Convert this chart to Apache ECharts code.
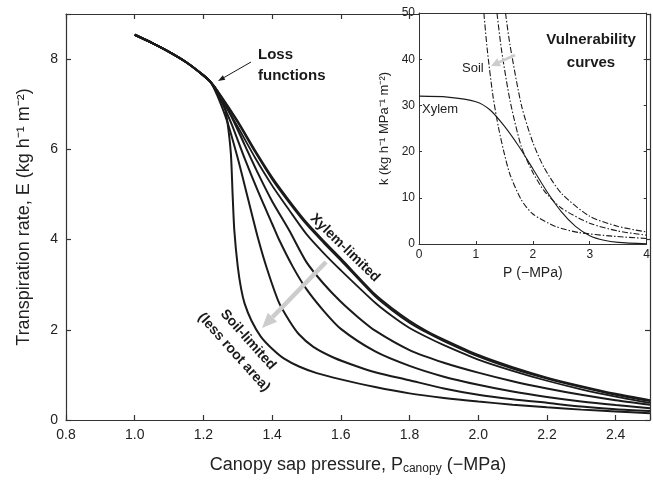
<!DOCTYPE html>
<html>
<head>
<meta charset="utf-8">
<script src="https://cdn.jsdelivr.net/npm/echarts@6/dist/echarts.min.js"></script>
<style>
  html, body { margin: 0; padding: 0; background: #fff; }
  #chart { width: 653px; height: 481px; }
</style>
</head>
<body>
<div id="chart"></div>
<script>
// main panel: canopy pressure (-MPa) vs transpiration E
var xTicksMain = [0.8, 2.5, 0.2];   // min, max, step
var yTicksMain = [0, 9, 2];

// shared start of all loss functions
var lossStart = [[1.0, 8.54], [1.05, 8.36], [1.1, 8.16], [1.15, 7.93], [1.2, 7.64], [1.22, 7.5]];

// xylem-limited bundle
var xylem1 = [[1.25, 7.2], [1.3, 6.62], [1.35, 5.98], [1.4, 5.38], [1.45, 4.86], [1.5, 4.38], [1.55, 3.97], [1.6, 3.58],
    [1.7, 2.78], [1.75, 2.47], [1.8, 2.2], [1.85, 1.97], [1.9, 1.78], [2.0, 1.44], [2.1, 1.17], [2.2, 0.94], [2.3, 0.75], [2.4, 0.58], [2.5, 0.44]];
var xylem2 = [[1.25, 7.18], [1.3, 6.6], [1.35, 5.95], [1.4, 5.34], [1.45, 4.82], [1.5, 4.34], [1.55, 3.93], [1.6, 3.54],
    [1.7, 2.74], [1.75, 2.43], [1.8, 2.16], [1.85, 1.94], [1.9, 1.75], [2.0, 1.41], [2.1, 1.14], [2.2, 0.92], [2.3, 0.73], [2.4, 0.56], [2.5, 0.42]];
var xylem3 = [[1.25, 7.15], [1.3, 6.5], [1.35, 5.82], [1.4, 5.2], [1.45, 4.65], [1.5, 4.12], [1.55, 3.7], [1.6, 3.32],
    [1.7, 2.6], [1.75, 2.3], [1.8, 2.04], [1.85, 1.84], [1.9, 1.66], [2.0, 1.34], [2.1, 1.09], [2.2, 0.87], [2.3, 0.68], [2.4, 0.52], [2.5, 0.38]];

// soil-limited (less root area)
var soil1 = [[1.24, 7.3], [1.28, 6.75], [1.32, 6.1], [1.36, 5.45], [1.4, 4.85], [1.45, 4.2], [1.5, 3.5], [1.55, 3.02],
    [1.6, 2.62], [1.65, 2.28], [1.7, 1.98], [1.8, 1.55], [1.9, 1.27], [2.0, 1.05], [2.1, 0.86], [2.2, 0.7], [2.3, 0.56], [2.4, 0.44], [2.5, 0.34]];
var soil2 = [[1.24, 7.25], [1.28, 6.6], [1.32, 5.8], [1.36, 5.05], [1.4, 4.35], [1.42, 4.0], [1.46, 3.4], [1.5, 2.9],
    [1.55, 2.42], [1.6, 2.02], [1.7, 1.52], [1.8, 1.2], [1.9, 0.96], [2.0, 0.78], [2.1, 0.63], [2.2, 0.51], [2.3, 0.41], [2.4, 0.33], [2.5, 0.26]];
var soil3 = [[1.24, 7.2], [1.27, 6.6], [1.3, 5.8], [1.33, 4.9], [1.36, 4.0], [1.386, 3.33], [1.42, 2.6], [1.45, 2.2],
    [1.478, 1.9], [1.52, 1.62], [1.58, 1.38], [1.65, 1.18], [1.7, 1.06], [1.8, 0.88], [1.9, 0.7], [2.0, 0.56], [2.1, 0.46], [2.2, 0.38], [2.3, 0.3], [2.4, 0.24], [2.5, 0.2]];
var soil4 = [[1.24, 7.3], [1.26, 7.0], [1.27, 6.6], [1.28, 5.9], [1.285, 5.0], [1.29, 4.2], [1.3, 3.4], [1.31, 2.9],
    [1.32, 2.58], [1.34, 2.2], [1.367, 1.85], [1.4, 1.58], [1.435, 1.36], [1.48, 1.18], [1.53, 1.04], [1.6, 0.9], [1.7, 0.73],
    [1.8, 0.59], [1.9, 0.49], [2.0, 0.41], [2.1, 0.34], [2.2, 0.28], [2.3, 0.23], [2.4, 0.19], [2.5, 0.15]];

// inset: vulnerability curves, P (-MPa) vs k
var xTicksInset = [0, 4, 1];
var yTicksInset = [0, 50, 10];
var vcXylem = [[0, 32], [0.5, 31.8], [1, 30.8], [1.25, 29], [1.5, 25.5], [1.75, 21.2], [2, 16.3], [2.25, 11.3],
    [2.5, 7], [2.75, 3.8], [3, 1.8], [3.25, 0.8], [3.5, 0.35], [4, 0.05]];
var vcSoil1 = [[1.14, 50], [1.2, 42], [1.3, 32], [1.4, 25], [1.5, 19.5], [1.6, 15], [1.8, 9.5], [2, 6.5], [2.4, 3.8], [2.8, 2.5], [3.4, 1.7], [4, 1.2]];
var vcSoil2 = [[1.37, 50], [1.45, 42], [1.6, 31], [1.8, 21], [2, 15.5], [2.2, 11.5], [2.5, 7.8], [3, 4.5], [3.5, 2.8], [4, 1.9]];
var vcSoil3 = [[1.52, 50], [1.6, 43], [1.8, 30], [2, 22], [2.2, 16.5], [2.5, 11], [3, 6], [3.5, 3.8], [4, 2.6]];

var font = 'Liberation Sans, Arial, sans-serif';
var ink = '#1a1a1a';

function withStart(pts) {
    return lossStart.concat(pts);
}

function mainLine(pts, w) {
    return {
        type: 'line', xAxisIndex: 0, yAxisIndex: 0,
        data: withStart(pts), showSymbol: false, smooth: 0.25,
        lineStyle: { color: ink, width: w }, silent: true, z: 3
    };
}

function insetLine(pts, dashed) {
    return {
        type: 'line', xAxisIndex: 2, yAxisIndex: 2,
        data: pts, showSymbol: false, smooth: 0.25,
        lineStyle: { color: ink, width: 1.1, type: dashed ? [6, 2, 1.5, 2] : 'solid' }, silent: true, z: 10
    };
}

function arrow(x1, y1, x2, y2, color, w, hl, hw) {
    var dx = x2 - x1, dy = y2 - y1;
    var len = Math.sqrt(dx * dx + dy * dy);
    var ux = dx / len, uy = dy / len;
    var bx = x2 - ux * hl, by = y2 - uy * hl;
    return [
        { type: 'line', shape: { x1: x1, y1: y1, x2: bx, y2: by }, style: { stroke: color, lineWidth: w }, z: 50 },
        { type: 'polygon', shape: { points: [[x2, y2], [bx - uy * hw / 2, by + ux * hw / 2], [bx + uy * hw / 2, by - ux * hw / 2]] },
          style: { fill: color }, z: 50 }
    ];
}

function fmtMain(v) {
    if (Math.abs(v - 2.5) < 1e-6) return '';
    return v.toFixed(1);
}

var axisLineStyle = { onZero: false, lineStyle: { color: '#333', width: 1.2 } };
var insetLineStyle = { onZero: false, lineStyle: { color: '#333', width: 1 } };
var tickIn = { show: true, inside: true, length: 5, lineStyle: { color: '#333', width: 1.2 } };
var tickInset = { show: true, inside: true, length: 3, lineStyle: { color: '#333' } };

var myChart = echarts.init(document.getElementById('chart'), null, { renderer: 'canvas' });

var option = {
    backgroundColor: '#fff',
    animation: false,
    textStyle: { fontFamily: font },
    grid: [
        { left: 66, top: 14, right: 1, bottom: 61, containLabel: false },
        { left: 419, top: 13, right: 3, bottom: 237, containLabel: false, show: true,
          backgroundColor: '#fff', borderWidth: 0, z: 5 }
    ],
    xAxis: [
        {
            type: 'value', gridIndex: 0, min: xTicksMain[0], max: xTicksMain[1], interval: xTicksMain[2],
            axisLine: axisLineStyle, axisTick: tickIn, splitLine: { show: false },
            axisLabel: { fontSize: 14, color: '#222', margin: 8, formatter: fmtMain },
            name: 'Canopy sap pressure, P{sub|canopy} (\u2212MPa)', nameLocation: 'middle', nameGap: 35,
            nameTextStyle: {
                fontSize: 18, color: '#222', fontFamily: font, verticalAlign: 'top', lineHeight: 20,
                rich: { sub: { fontSize: 12, color: '#222', fontFamily: font, verticalAlign: 'bottom', lineHeight: 12, padding: [10, 0, 0, 0] } }
            }
        },
        {
            type: 'value', gridIndex: 0, position: 'top', min: xTicksMain[0], max: xTicksMain[1], interval: xTicksMain[2],
            axisLine: axisLineStyle, axisTick: tickIn, axisLabel: { show: false }, splitLine: { show: false }
        },
        {
            type: 'value', gridIndex: 1, min: xTicksInset[0], max: xTicksInset[1], interval: xTicksInset[2], z: 6,
            axisLine: insetLineStyle, axisTick: tickInset, splitLine: { show: false },
            axisLabel: { fontSize: 12, color: '#222', margin: 5 },
            name: 'P (\u2212MPa)', nameLocation: 'middle', nameGap: 22,
            nameTextStyle: { fontSize: 14, color: '#222', fontFamily: font, verticalAlign: 'top' }
        },
        {
            type: 'value', gridIndex: 1, position: 'top', min: xTicksInset[0], max: xTicksInset[1], interval: xTicksInset[2], z: 6,
            axisLine: insetLineStyle, axisTick: { show: false },
            axisLabel: { show: false }, splitLine: { show: false }
        }
    ],
    yAxis: [
        {
            type: 'value', gridIndex: 0, min: yTicksMain[0], max: yTicksMain[1], interval: yTicksMain[2],
            axisLine: axisLineStyle, axisTick: tickIn, splitLine: { show: false },
            axisLabel: { fontSize: 14, color: '#222', margin: 8, formatter: function (v) { return v === 9 ? '' : String(v); } },
            name: 'Transpiration rate, E (kg h\u207B\u00B9 m\u207B\u00B2)', nameLocation: 'middle', nameGap: 33,
            nameTextStyle: { fontSize: 18, color: '#222', fontFamily: font }
        },
        {
            type: 'value', gridIndex: 0, position: 'right', min: yTicksMain[0], max: yTicksMain[1], interval: yTicksMain[2],
            axisLine: axisLineStyle, axisTick: tickIn, axisLabel: { show: false }, splitLine: { show: false }
        },
        {
            type: 'value', gridIndex: 1, min: yTicksInset[0], max: yTicksInset[1], interval: yTicksInset[2], z: 6,
            axisLine: insetLineStyle, axisTick: tickInset, splitLine: { show: false },
            axisLabel: { fontSize: 12, color: '#222', margin: 4 },
            name: 'k (kg h\u207B\u00B9 MPa\u207B\u00B9 m\u207B\u00B2)', nameLocation: 'middle', nameGap: 28,
            nameTextStyle: { fontSize: 13, color: '#222', fontFamily: font }
        },
        {
            type: 'value', gridIndex: 1, position: 'right', min: yTicksInset[0], max: yTicksInset[1], interval: yTicksInset[2], z: 6,
            axisLine: insetLineStyle, axisTick: tickInset,
            axisLabel: { show: false }, splitLine: { show: false }
        }
    ],
    series: [
        mainLine(soil4, 2),
        mainLine(soil3, 2),
        mainLine(soil2, 2),
        mainLine(soil1, 2),
        mainLine(xylem3, 1.8),
        mainLine(xylem2, 2),
        mainLine(xylem1, 2),
        insetLine(vcXylem, false),
        insetLine(vcSoil1, true),
        insetLine(vcSoil2, true),
        insetLine(vcSoil3, true)
    ],
    graphic: [].concat(
        arrow(326, 262, 262, 328, '#cccccc', 4.5, 15, 13),
        arrow(515, 55, 491, 66, '#cccccc', 3, 9, 9),
        arrow(251, 62, 218, 81, ink, 1, 7, 5),
        [
            { type: 'text', x: 258, y: 44, z: 60,
              style: { text: 'Loss\nfunctions', font: 'bold 15px ' + font, fill: ink, lineHeight: 21 } },
            { type: 'text', x: 345, y: 248, rotation: -0.77, z: 60,
              style: { text: 'Xylem-limited', font: 'bold 14px ' + font, fill: ink, align: 'center', verticalAlign: 'middle' } },
            { type: 'text', x: 241, y: 346, rotation: -0.84, z: 60,
              style: { text: 'Soil-limited\n(less root area)', font: 'bold 14px ' + font, fill: ink, align: 'center', verticalAlign: 'middle', lineHeight: 19 } },
            { type: 'text', x: 591, y: 28, z: 60,
              style: { text: 'Vulnerability\ncurves', font: 'bold 15px ' + font, fill: ink, align: 'center', lineHeight: 23 } },
            { type: 'text', x: 462, y: 62, z: 60,
              style: { text: 'Soil', font: '13px ' + font, fill: '#222' } },
            { type: 'text', x: 422, y: 103, z: 60,
              style: { text: 'Xylem', font: '13px ' + font, fill: '#222' } }
        ]
    )
};

myChart.setOption(option);
</script>
</body>
</html>
